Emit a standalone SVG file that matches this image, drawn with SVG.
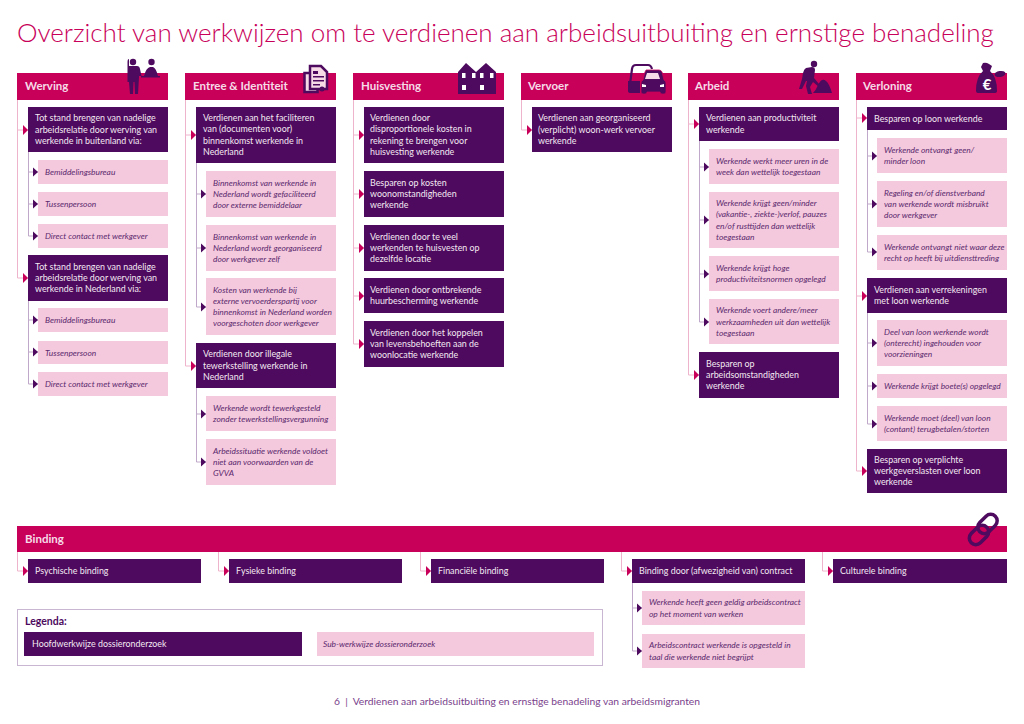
<svg xmlns="http://www.w3.org/2000/svg" width="1024" height="724" viewBox="0 0 1024 724">
<style>
text{font-family:Lato,"Noto Sans","Liberation Sans",sans-serif}
.t{font-size:26px;fill:#c8005a;font-weight:300}
.h{font-size:11.500px;fill:#f6dbe7;font-weight:700}
.m{font-size:8.900px;fill:#f4e9f2}
.s{font-size:8.400px;fill:#5b2a6e;font-style:italic}
.hd{fill:#c8005a}.mb{fill:#4d0a5e}.sb{fill:#f4c8dd}
.cm{fill:none;stroke:#eeb4cc;stroke-width:1;marker-end:url(#am)}
.cs{fill:none;stroke:#bfa8c9;stroke-width:1;marker-end:url(#as)}
.sp{fill:none;stroke:#eeb4cc;stroke-width:1}
.ss{fill:none;stroke:#bfa8c9;stroke-width:1}
.ic{fill:#4d0a5e}
</style>
<defs>
<marker id="am" markerUnits="userSpaceOnUse" markerWidth="6" markerHeight="10" refX="5" refY="5" orient="auto"><path d="M0 0L5 5L0 10Z" fill="#c8005a"/></marker>
<marker id="as" markerUnits="userSpaceOnUse" markerWidth="6" markerHeight="10" refX="5" refY="5" orient="auto"><path d="M0 .5L5 5L0 9.500Z" fill="#4d0a5e"/></marker>
</defs>
<rect width="1024" height="724" fill="#fff"/>
<text class="t" x="17" y="42">Overzicht van werkwijzen om te verdienen aan arbeidsuitbuiting en ernstige benadeling</text>

<g id="connectors">
<path class="sp" d="M17.500 100V278"/>
<path class="cm" d="M17.500 130H28"/><path class="cm" d="M17.500 278H28"/>
<path class="ss" d="M28.500 152V236M28.500 301V384"/>
<path class="cs" d="M28.500 172H38"/><path class="cs" d="M28.500 204H38"/><path class="cs" d="M28.500 236H38"/>
<path class="cs" d="M28.500 320H38"/><path class="cs" d="M28.500 352H38"/><path class="cs" d="M28.500 384H38"/>

<path class="sp" d="M185.500 100V366"/>
<path class="cm" d="M185.500 135H196"/><path class="cm" d="M185.500 366H196"/>
<path class="ss" d="M196.500 163V307M196.500 388V462"/>
<path class="cs" d="M196.500 194H206"/><path class="cs" d="M196.500 248H206"/><path class="cs" d="M196.500 307H206"/>
<path class="cs" d="M196.500 414H206"/><path class="cs" d="M196.500 462H206"/>

<path class="sp" d="M353.500 100V344"/>
<path class="cm" d="M353.500 135H364"/><path class="cm" d="M353.500 194H364"/><path class="cm" d="M353.500 248H364"/><path class="cm" d="M353.500 296H364"/><path class="cm" d="M353.500 344H364"/>

<path class="cm" d="M521.500 100V130H532"/>

<path class="sp" d="M688.500 100V375"/>
<path class="cm" d="M688.500 124H699"/><path class="cm" d="M688.500 375H699"/>
<path class="ss" d="M699.500 141V322"/>
<path class="cs" d="M699.500 167H709"/><path class="cs" d="M699.500 220H709"/><path class="cs" d="M699.500 274H709"/><path class="cs" d="M699.500 322H709"/>

<path class="sp" d="M856.500 100V471"/>
<path class="cm" d="M856.500 118H867"/><path class="cm" d="M856.500 296H867"/><path class="cm" d="M856.500 471H867"/>
<path class="ss" d="M867.500 130V252M867.500 313V424"/>
<path class="cs" d="M867.500 156H877"/><path class="cs" d="M867.500 204H877"/><path class="cs" d="M867.500 252H877"/>
<path class="cs" d="M867.500 343H877"/><path class="cs" d="M867.500 386H877"/><path class="cs" d="M867.500 424H877"/>

<path class="cm" d="M17.500 552V571H28"/><path class="cm" d="M218.500 552V571H229"/><path class="cm" d="M420.500 552V571H431"/><path class="cm" d="M621.500 552V571H632"/><path class="cm" d="M822.500 552V571H833"/>
<path class="ss" d="M632.500 583V651"/>
<path class="cs" d="M632.500 608H642"/><path class="cs" d="M632.500 651H642"/>
</g>

<g id="werving">
<rect class="hd" x="17" y="73" width="151" height="27"/><text class="h" x="25" y="90">Werving</text>
<path class="ic" d="M129 66h8q2.500 0 3 3l1.500 7h-2.500v1l-1 17h-3l-.5-12h-1l-.5 12h-3l-1-12h-1.500v-20q0-3 1.500-3Z"/>
<path class="ic" d="M141 76h3q2-8 6-9h3q3 1 5 9h2v1.500h-19Z"/>
<circle class="ic" cx="133" cy="62" r="3.200"/><circle class="ic" cx="151.500" cy="62" r="3.200"/>
</g>
<g id="w1"><rect class="mb" x="28" y="107" width="140" height="45"/><text class="m" x="35" y="121.300">Tot stand brengen van nadelige<tspan x="35" dy="11.200">arbeidsrelatie door werving van</tspan><tspan x="35" dy="11.200">werkende in buitenland via:</tspan></text></g>
<g id="w1a"><rect class="sb" x="38" y="160" width="130" height="24"/><text class="s" x="45" y="175">Bemiddelingsbureau</text></g>
<g id="w1b"><rect class="sb" x="38" y="192" width="130" height="24"/><text class="s" x="45" y="207">Tussenpersoon</text></g>
<g id="w1c"><rect class="sb" x="38" y="224" width="130" height="24"/><text class="s" x="45" y="239">Direct contact met werkgever</text></g>
<g id="w2"><rect class="mb" x="28" y="255" width="140" height="46"/><text class="m" x="35" y="269.800">Tot stand brengen van nadelige<tspan x="35" dy="11.200">arbeidsrelatie door werving van</tspan><tspan x="35" dy="11.200">werkende in Nederland via:</tspan></text></g>
<g id="w2a"><rect class="sb" x="38" y="308" width="130" height="24"/><text class="s" x="45" y="323">Bemiddelingsbureau</text></g>
<g id="w2b"><rect class="sb" x="38" y="341" width="130" height="23"/><text class="s" x="45" y="355.500">Tussenpersoon</text></g>
<g id="w2c"><rect class="sb" x="38" y="372" width="130" height="24"/><text class="s" x="45" y="387">Direct contact met werkgever</text></g>

<g id="entree">
<rect class="hd" x="185" y="73" width="151" height="27"/><text class="h" x="193" y="90">Entree &amp; Identiteit</text>
<path d="M304.500 73h13v19h-13Z" fill="#f6dbe7" stroke="#4d0a5e" stroke-width="2.500"/>
<path d="M310 66h11l6 6v17h-17Z" fill="#f6dbe7" stroke="#4d0a5e" stroke-width="2.500"/>
<path d="M313 71h5v3h-5ZM313 76h11v1.500h-11ZM313 80h11v1.500h-11ZM313 84h7v1.500h-7Z" fill="#4d0a5e"/>
<circle class="ic" cx="322" cy="89" r="2.500"/>
</g>
<g id="e1"><rect class="mb" x="196" y="107" width="140" height="56"/><text class="m" x="203" y="121.200">Verdienen aan het faciliteren<tspan x="203" dy="11.200">van (documenten voor)</tspan><tspan x="203" dy="11.200">binnenkomst werkende in</tspan><tspan x="203" dy="11.200">Nederland</tspan></text></g>
<g id="e1a"><rect class="sb" x="206" y="171" width="130" height="46"/><text class="s" x="213" y="185.800">Binnenkomst van werkende in<tspan x="213" dy="11.200">Nederland wordt gefaciliteerd</tspan><tspan x="213" dy="11.200">door externe bemiddelaar</tspan></text></g>
<g id="e1b"><rect class="sb" x="206" y="225" width="130" height="46"/><text class="s" x="213" y="239.800">Binnenkomst van werkende in<tspan x="213" dy="11.200">Nederland wordt georganiseerd</tspan><tspan x="213" dy="11.200">door werkgever zelf</tspan></text></g>
<g id="e1c"><rect class="sb" x="206" y="278" width="130" height="57"/><text class="s" x="213" y="292.700">Kosten van werkende bij<tspan x="213" dy="11.200">externe vervoerderspartij voor</tspan><tspan x="213" dy="11.200">binnenkomst in Nederland worden</tspan><tspan x="213" dy="11.200">voorgeschoten door werkgever</tspan></text></g>
<g id="e2"><rect class="mb" x="196" y="343" width="140" height="45"/><text class="m" x="203" y="357.300">Verdienen door illegale<tspan x="203" dy="11.200">tewerkstelling werkende in</tspan><tspan x="203" dy="11.200">Nederland</tspan></text></g>
<g id="e2a"><rect class="sb" x="206" y="396" width="130" height="35"/><text class="s" x="213" y="411">Werkende wordt tewerkgesteld<tspan x="213" dy="11.200">zonder tewerkstellingsvergunning</tspan></text></g>
<g id="e2b"><rect class="sb" x="206" y="439" width="130" height="46"/><text class="s" x="213" y="453.800">Arbeidssituatie werkende voldoet<tspan x="213" dy="11.200">niet aan voorwaarden van de</tspan><tspan x="213" dy="11.200">GVVA</tspan></text></g>

<g id="huisvesting">
<rect class="hd" x="353" y="73" width="151" height="27"/><text class="h" x="361" y="90">Huisvesting</text>
<path class="ic" d="M458 94V72l8-9l10 9l10-9l10 9v22Z"/>
<path d="M462 73h3.500v5h-3.500ZM472 73h3.500v5h-3.500ZM480 73h3.500v5h-3.500ZM490 73h3.500v5h-3.500ZM462 85h4v5h-4ZM480 85h4v5h-4Z" fill="#fff"/>
</g>
<g id="h1"><rect class="mb" x="364" y="107" width="140" height="56"/><text class="m" x="370" y="121.200">Verdienen door<tspan x="370" dy="11.200">disproportionele kosten in</tspan><tspan x="370" dy="11.200">rekening te brengen voor</tspan><tspan x="370" dy="11.200">huisvesting werkende</tspan></text></g>
<g id="h2"><rect class="mb" x="364" y="171" width="140" height="46"/><text class="m" x="370" y="185.800">Besparen op kosten<tspan x="370" dy="11.200">woonomstandigheden</tspan><tspan x="370" dy="11.200">werkende</tspan></text></g>
<g id="h3"><rect class="mb" x="364" y="225" width="140" height="46"/><text class="m" x="370" y="239.800">Verdienen door te veel<tspan x="370" dy="11.200">werkenden te huisvesten op</tspan><tspan x="370" dy="11.200">dezelfde locatie</tspan></text></g>
<g id="h4"><rect class="mb" x="364" y="278" width="140" height="35"/><text class="m" x="370" y="293">Verdienen door ontbrekende<tspan x="370" dy="11.200">huurbescherming werkende</tspan></text></g>
<g id="h5"><rect class="mb" x="364" y="321" width="140" height="46"/><text class="m" x="370" y="335.800">Verdienen door het koppelen<tspan x="370" dy="11.200">van levensbehoeften aan de</tspan><tspan x="370" dy="11.200">woonlocatie werkende</tspan></text></g>

<g id="vervoer">
<rect class="hd" x="521" y="73" width="151" height="27"/><text class="h" x="528" y="90">Vervoer</text>
<path d="M630 84l2-15q.5-4 4-4h12q3 0 4 4" fill="none" stroke="#4d0a5e" stroke-width="2.200"/>
<path class="ic" d="M628 81h12v12h-9q-3 0-3-2Z"/>
<path class="ic" d="M646 70h13q2 0 3 2l2 8q2 1 2 3v9q0 2-2 2h-2q-2 0-2-2h-13q0 2-2 2h-2q-2 0-2-2v-9q0-2 2-3l2-8q1-2 1-2Z" stroke="#c8005a" stroke-width=".8"/>
<path d="M647 73h11l2 6h-15Z" fill="#f6dbe7"/>
<path d="M642 84l4 1v2h-4ZM664 84l-4 1v2h4Z" fill="#fff"/>
</g>
<g id="v1"><rect class="mb" x="532" y="107" width="140" height="45"/><text class="m" x="538" y="121.300">Verdienen aan georganiseerd<tspan x="538" dy="11.200">(verplicht) woon-werk vervoer</tspan><tspan x="538" dy="11.200">werkende</tspan></text></g>

<g id="arbeid">
<rect class="hd" x="688" y="73" width="151" height="27"/><text class="h" x="695" y="90">Arbeid</text>
<circle class="ic" cx="814" cy="64" r="3.200"/>
<path class="ic" d="M806 68l6-1q3 0 3 3l-1 8l5 6l2-1l1 2l-3 2l-6-5l-3 5l2 7h-4l-2-8l1-5h-1l-4 8h-3l3-10l1-6q1-4 3-5Z"/>
<path class="ic" d="M813 93q3-3 5-8q4-8 8-4q3 2 6 12Z"/>
</g>
<g id="a1"><rect class="mb" x="699" y="107" width="140" height="34"/><text class="m" x="706" y="121.400">Verdienen aan productiviteit<tspan x="706" dy="11.200">werkende</tspan></text></g>
<g id="a1a"><rect class="sb" x="709" y="149" width="130" height="35"/><text class="s" x="716" y="163.900">Werkende werkt meer uren in de<tspan x="716" dy="11.200">week dan wettelijk toegestaan</tspan></text></g>
<g id="a1b"><rect class="sb" x="709" y="192" width="130" height="56"/><text class="s" x="716" y="206.200">Werkende krijgt geen/minder<tspan x="716" dy="11.200">(vakantie-, ziekte-)verlof, pauzes</tspan><tspan x="716" dy="11.200">en/of rusttijden dan wettelijk</tspan><tspan x="716" dy="11.200">toegestaan</tspan></text></g>
<g id="a1c"><rect class="sb" x="709" y="256" width="130" height="35"/><text class="s" x="716" y="270.900">Werkende krijgt hoge<tspan x="716" dy="11.200">productiviteitsnormen opgelegd</tspan></text></g>
<g id="a1d"><rect class="sb" x="709" y="299" width="130" height="45"/><text class="s" x="716" y="313.300">Werkende voert andere/meer<tspan x="716" dy="11.200">werkzaamheden uit dan wettelijk</tspan><tspan x="716" dy="11.200">toegestaan</tspan></text></g>
<g id="a2"><rect class="mb" x="699" y="352" width="140" height="46"/><text class="m" x="706" y="366.800">Besparen op<tspan x="706" dy="11.200">arbeidsomstandigheden</tspan><tspan x="706" dy="11.200">werkende</tspan></text></g>

<g id="verloning">
<rect class="hd" x="856" y="73" width="151" height="27"/><text class="h" x="863" y="90">Verloning</text>
<path class="ic" d="M983 63q3-1 6 1l3 2l-2 5q7 6 7 20q0 2-3 2h-16q-2 0-2-2q0-14 7-20l-2-4Z"/>
<ellipse class="ic" cx="1000" cy="74" rx="5.500" ry="3" transform="rotate(-10 1000 74)"/>
<text x="987" y="90" font-size="15" fill="#fff" font-weight="700" text-anchor="middle">€</text>
</g>
<g id="l1"><rect class="mb" x="867" y="107" width="140" height="23"/><text class="m" x="874" y="121.500">Besparen op loon werkende</text></g>
<g id="l1a"><rect class="sb" x="877" y="138" width="130" height="35"/><text class="s" x="884" y="152.900">Werkende ontvangt geen/<tspan x="884" dy="11.200">minder loon</tspan></text></g>
<g id="l1b"><rect class="sb" x="877" y="181" width="130" height="46"/><text class="s" x="884" y="195.800">Regeling en/of dienstverband<tspan x="884" dy="11.200">van werkende wordt misbruikt</tspan><tspan x="884" dy="11.200">door werkgever</tspan></text></g>
<g id="l1c"><rect class="sb" x="877" y="235" width="130" height="35"/><text class="s" x="884" y="249.900">Werkende ontvangt niet waar deze<tspan x="884" dy="11.200">recht op heeft bij uitdiensttreding</tspan></text></g>
<g id="l2"><rect class="mb" x="867" y="278" width="140" height="35"/><text class="m" x="874" y="292.900">Verdienen aan verrekeningen<tspan x="874" dy="11.200">met loon werkende</tspan></text></g>
<g id="l2a"><rect class="sb" x="877" y="320" width="130" height="46"/><text class="s" x="884" y="334.800">Deel van loon werkende wordt<tspan x="884" dy="11.200">(onterecht) ingehouden voor</tspan><tspan x="884" dy="11.200">voorzieningen</tspan></text></g>
<g id="l2b"><rect class="sb" x="877" y="374" width="130" height="24"/><text class="s" x="884" y="389">Werkende krijgt boete(s) opgelegd</text></g>
<g id="l2c"><rect class="sb" x="877" y="406" width="130" height="35"/><text class="s" x="884" y="420.900">Werkende moet (deel) van loon<tspan x="884" dy="11.200">(contant) terugbetalen/storten</tspan></text></g>
<g id="l3"><rect class="mb" x="867" y="449" width="140" height="44"/><text class="m" x="874" y="462.800">Besparen op verplichte<tspan x="874" dy="11.200">werkgeverslasten over loon</tspan><tspan x="874" dy="11.200">werkende</tspan></text></g>

<g id="binding">
<rect class="hd" x="17" y="526" width="990" height="26"/><text class="h" x="25" y="543">Binding</text>
<g fill="none" stroke="#4d0a5e" stroke-width="3.500"><rect x="981" y="513" width="13" height="22" rx="6.500" transform="rotate(45 987.500 524)"/><rect x="972.500" y="524" width="13" height="22" rx="6.500" transform="rotate(45 979 535)"/></g>
</g>
<g id="b1"><rect class="mb" x="28" y="559" width="173" height="24"/><text class="m" x="35" y="574">Psychische binding</text></g>
<g id="b2"><rect class="mb" x="229" y="559" width="173" height="24"/><text class="m" x="236" y="574">Fysieke binding</text></g>
<g id="b3"><rect class="mb" x="431" y="559" width="173" height="24"/><text class="m" x="438" y="574">Financiële binding</text></g>
<g id="b4"><rect class="mb" x="632" y="559" width="173" height="24"/><text class="m" x="639" y="574">Binding door (afwezigheid van) contract</text></g>
<g id="b5"><rect class="mb" x="833" y="559" width="174" height="24"/><text class="m" x="840" y="574">Culturele binding</text></g>
<g id="b4a"><rect class="sb" x="642" y="591" width="163" height="34"/><text class="s" x="649" y="605.400">Werkende heeft geen geldig arbeidscontract<tspan x="649" dy="11.200">op het moment van werken</tspan></text></g>
<g id="b4b"><rect class="sb" x="642" y="634" width="163" height="34"/><text class="s" x="649" y="648.400">Arbeidscontract werkende is opgesteld in<tspan x="649" dy="11.200">taal die werkende niet begrijpt</tspan></text></g>

<g id="legenda">
<rect x="17.500" y="609.500" width="585" height="56" fill="#fff" stroke="#c9b6d2"/>
<text x="25" y="625" font-size="10.500" font-weight="700" fill="#4d0a5e">Legenda:</text>
<rect class="mb" x="24" y="632" width="278" height="24"/><text class="m" x="32" y="647">Hoofdwerkwijze dossieronderzoek</text>
<rect class="sb" x="317" y="632" width="277" height="24"/><text class="s" x="323" y="647">Sub-werkwijze dossieronderzoek</text>
</g>
<text x="517" y="705" text-anchor="middle" font-size="10.300" fill="#7a3f8c">6 &#160;|&#160; Verdienen aan arbeidsuitbuiting en ernstige benadeling van arbeidsmigranten</text>
</svg>
